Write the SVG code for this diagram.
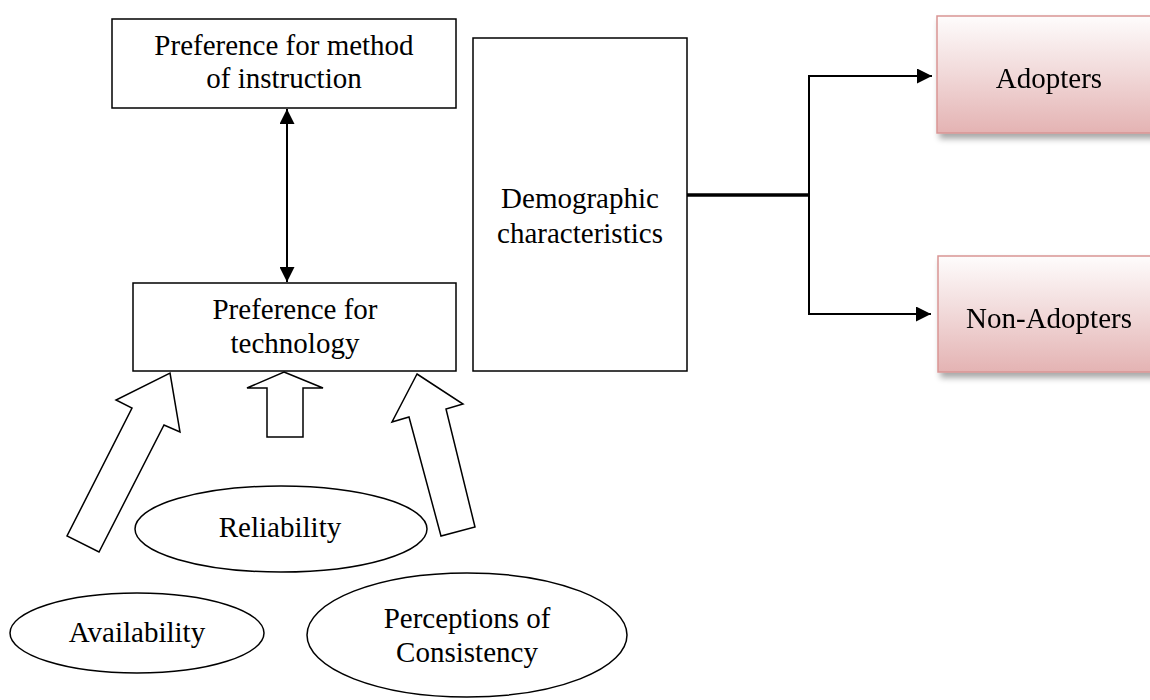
<svg xmlns="http://www.w3.org/2000/svg" width="1150" height="700" viewBox="0 0 1150 700">
<defs>
<linearGradient id="pink" x1="0" y1="0" x2="0" y2="1">
<stop offset="0" stop-color="#fefcfc"/>
<stop offset="0.45" stop-color="#f2dcdc"/>
<stop offset="1" stop-color="#e4b3b3"/>
</linearGradient>
<filter id="shadow" x="-10%" y="-10%" width="130%" height="140%">
<feGaussianBlur in="SourceAlpha" stdDeviation="3"/>
<feOffset dx="3" dy="5" result="b"/>
<feComponentTransfer><feFuncA type="linear" slope="0.35"/></feComponentTransfer>
<feMerge><feMergeNode/><feMergeNode in="SourceGraphic"/></feMerge>
</filter>
<marker id="ah" viewBox="0 0 10 10" refX="10" refY="5" markerWidth="7.5" markerHeight="7.5" markerUnits="strokeWidth" orient="auto-start-reverse">
<path d="M0,0 L10,5 L0,10 Z" fill="#000"/>
</marker>
</defs>
<style>
text{font-family:"Liberation Serif","Times New Roman",serif;font-size:29px;fill:#000;text-anchor:middle}
.box{fill:#fff;stroke:#000;stroke-width:1.5}
.ell{fill:#fff;stroke:#000;stroke-width:1.5}
.blk{fill:#fff;stroke:#000;stroke-width:1.5;stroke-linejoin:miter}
.pk{fill:url(#pink);stroke:#d99594;stroke-width:1.5}
.ln{fill:none;stroke:#000;stroke-width:2}
</style>
<rect width="1150" height="700" fill="#fff"/>

<g id="method">
<rect class="box" x="112" y="19" width="344" height="89"/>
<text x="284" y="55">Preference for method</text>
<text x="284" y="88">of instruction</text>
</g>

<g id="technology">
<rect class="box" x="133" y="283" width="323" height="88"/>
<text x="295" y="319">Preference for</text>
<text x="295" y="353">technology</text>
</g>

<g id="demographic">
<rect class="box" x="473" y="38" width="214" height="333"/>
<text x="580" y="208">Demographic</text>
<text x="580" y="243">characteristics</text>
</g>

<g id="adopters" filter="url(#shadow)">
<rect class="pk" x="937" y="16" width="225" height="117"/>
<text x="1049" y="88">Adopters</text>
</g>

<g id="nonadopters" filter="url(#shadow)">
<rect class="pk" x="938" y="256" width="225" height="116"/>
<text x="1049" y="328">Non-Adopters</text>
</g>

<g id="reliability">
<ellipse class="ell" cx="281" cy="529" rx="146" ry="43"/>
<text x="280" y="537">Reliability</text>
</g>

<g id="availability">
<ellipse class="ell" cx="137" cy="633" rx="127" ry="40"/>
<text x="137" y="642">Availability</text>
</g>

<g id="perceptions">
<ellipse class="ell" cx="467" cy="635" rx="160" ry="62"/>
<text x="467" y="628">Perceptions of</text>
<text x="467" y="662">Consistency</text>
</g>

<g id="connectors">
<line class="ln" x1="287" y1="109" x2="287" y2="282" marker-start="url(#ah)" marker-end="url(#ah)"/>
<line x1="687" y1="195" x2="810" y2="195" stroke="#000" stroke-width="3.5"/>
<path class="ln" d="M932,76 H809 V314 H931" marker-start="url(#ah)" marker-end="url(#ah)"/>
<polygon class="blk" points="170,373 180,432 164,425 99,552 67,536 132,408 116,400"/>
<polygon class="blk" points="284,372 323,388 303,388 303,437 267,437 267,388 247,388"/>
<polygon class="blk" points="417,374 463,404 446,409 475,527 441,536 409,417 392,422"/>
</g>
</svg>
